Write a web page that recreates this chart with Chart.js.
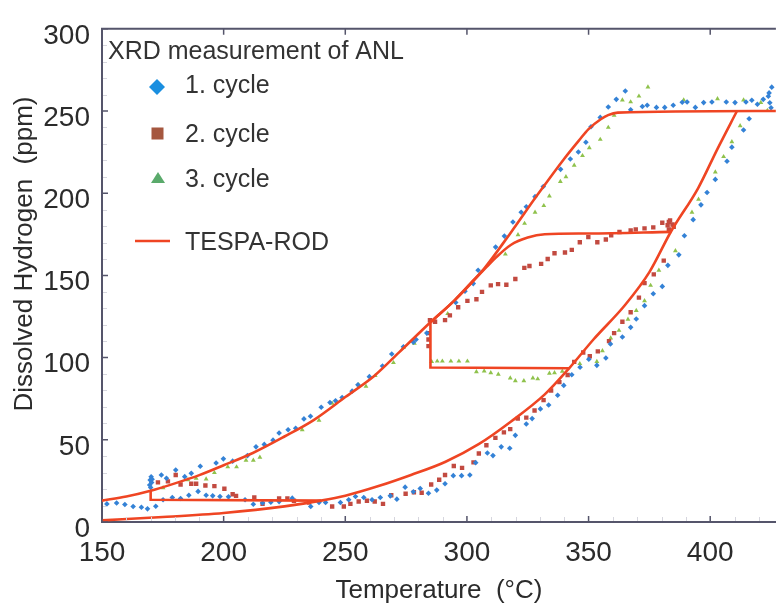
<!DOCTYPE html>
<html>
<head>
<meta charset="utf-8">
<script src="https://cdn.jsdelivr.net/npm/chart.js@4.4.1/dist/chart.umd.min.js"></script>
<style>
  html, body { margin: 0; padding: 0; background: #ffffff; }
  #wrap { width: 779px; height: 610px; position: relative; }
</style>
</head>
<body>
<div id="wrap"><canvas id="c"></canvas></div>
<script>
// ---------------- data ----------------
const xTicks = [150, 200, 250, 300, 350, 400];
const yTicks = [0, 50, 100, 150, 200, 250, 300];

const xTitle = "Temperature  (°C)";
const yTitle = "Dissolved Hydrogen  (ppm)";
const legendTitle = "XRD measurement of ANL";
const seriesNames = ["1. cycle", "2. cycle", "3. cycle", "TESPA-ROD"];

// 1. cycle (blue diamonds)
const cycle1X = [152,156,159.4,162.8,166.2,168.7,172.1,
  175.1,178.9,182.3,185.7,189.5,192.8,195.5,198.5,202,208.8,212.2,216,219.4,222.8,228.2,235.8,239.2,241.9,248,251.4,254.2,257.6,261,264.4,268.5,271.2,274.6,278,280.8,284.2,287.6,291,294.4,297.8,301.2,303.6,308.4,310.7,314.1,317.6,319.9,324.4,326.8,330.2,333.6,337.3,339.8,343.1,346.5,350.1,353.4,357.1,359,363.9,367.3,369.6,373,376.6,380.3,382.6,387.1,389.4,393,396.2,398.7,402.1,406.9,408.9,413.7,416,
  423.9,424.5,425,425.3,424.2,
  421.8,419.4,417.1,414.7,410.2,406.6,400.7,397.3,393.9,390.5,388.5,384.8,381.3,377.9,374.1,372.1,367.3,365.1,361.4,358.1,354.8,351,348.9,345.8,342.5,338.5,331.4,328,324.4,322.3,318.9,315.4,311.8,304.6,302.6,299.2,295.4,283.5,279.1,278,273.9,269.1,265.3,259.9,255.2,252.8,248.7,246,243.7,240.1,235.7,233,229.6,226.5,222.8,220.3,216.7,213.3,209.8,203.7,199.9,196.9,190.4,186.7,184,180.3,176.5,174.4,
  170.2,169.8,170.4,169.6,170,170.6];
const cycle1Y = [11,11.6,10.6,9.4,9,8,9.6,
  13.5,14.9,14.3,16.3,18.6,16.3,15.9,15.5,15.3,13.5,10.8,11.6,12,12.4,14.5,9.4,11.9,11.9,11.9,13.5,15.5,14.9,13.5,14.9,15.9,13.9,21.2,18.4,20.4,17.5,19.4,23.3,28.2,28.2,28.6,36.1,42,40.4,45.7,44.9,52.7,59.6,62.9,68.8,71.2,77.1,83.1,89.6,94.1,99,95.3,99.8,108.3,112.5,118.4,123.5,131.6,138.8,143.3,156.1,162.5,174.1,183.9,192.9,200.4,208.4,219.4,228,238.4,245.3,
  259,255,252,264.5,261,
  257.1,254.1,256.5,255.5,255.1,255.5,255.5,255.1,252.2,255.5,255.3,253.5,252.2,252.2,253.5,252.7,250.8,262.2,257.1,252.4,246.1,240.4,231,225.1,220.8,214.5,204.1,197.9,191.8,188.4,182.5,173.9,167.2,153.1,145,140.4,133.5,114.9,111,109.4,106.6,102.2,94.9,88.4,83.5,79.6,75.7,73.7,72.7,69.8,64.3,62.7,57,56.1,54.1,49.8,47.2,45.7,40.4,37,38.4,35.9,33.9,29.6,27.6,31.6,26.6,28.6,
  27.5,25.5,24,22.5,21,26];

// 2. cycle (red squares)
const cycle2X = [173,177.1,180.3,182.3,186.7,188.7,192.5,196.2,200.3,203.7,205.1,212.6,216,222.8,226.2,228.9,235.1,244.6,249.4,252.1,255.5,258.9,262.1,265.5,268.9,274.8,278.2,281.4,285.3,288.6,291,294.6,298,302.7,304.9,308,311.7,315.2,317.8,320.9,324.4,327.8,331.5,334.6,338,341.4,344.1,347.8,350.5,353.8,358.4,360.5,363.9,367.3,370.7,373,376.8,380.9,
  383,384.5,383.5,385,382.5,
  383,380.3,376.6,373,369.4,367.3,362.7,359.3,357.1,353.6,349.9,346.4,343.1,340.3,336,333.2,330.5,325.7,323.6,319.9,316.2,312.8,309.8,306.2,303.9,300.2,296.4,293,291,286.9,284.8,284.2,284.2,284.2];
const cycle2Y = [24.1,24.7,28.6,22.8,23.3,23.3,22.2,21.8,20.2,16.9,15.9,14.9,11,14.3,14.3,12.9,11.9,9.4,9.4,11,12.5,12.9,12.5,11,16.3,17.2,18.1,17.8,22.8,25.7,28.6,34.1,32.9,36.3,41.7,46.7,51.2,54.5,56.5,62.9,63.5,67.8,74.1,80,85.1,89.4,97.4,103.1,100.8,103.8,110,114.9,121.8,127.6,136.5,145.3,150.6,159,
  178,181,183.5,179.5,180.5,
  182.5,182,179.2,178.6,178,177.3,176.4,174.4,171.8,170.2,173.3,170.2,165.5,163.9,163.5,160,157,155.7,154.6,147.8,144.3,144.7,143.9,140,135.5,134.5,130.6,125.7,122.8,121.8,122.7,114.9,111,107];

// 3. cycle (green triangles)
const cycle3X = [285.5,287.8,289.9,293.4,296.7,300.2,303.9,307.1,309.8,312.9,317.8,319.9,323.4,327.1,329.1,333.9,336,339.2,
  346.4,353.4,355.7,359.1,362.5,366.2,369.6,373,375.5,378.9,385.7,392.5,395.2,402.1,405.5,408.9,412.3,420.8,423.5,
  413.7,403,389.1,374.4,370.7,367.3,363.9,360.5,358.1,354.8,350.3,347.5,344.1,340.7,338.4,333.9,331.6,328,323.7,321,315.8,292.1,278.4,273.9,269.8,262.3,258.5,255.5,244.6,239.2,232.3,214.9,212.2,209.2,205.3,201.7,196.2,192.8,188.7,185.3,175.1];
const cycle3Y = [97.6,97.8,97.8,97.8,97.8,97.8,91.4,91.8,90.7,89.8,87.5,85.9,85.9,87.6,87,90.4,90.7,91.7,
  96.3,97.6,104.1,111.9,116.5,123.3,128.6,134.5,143.9,153.1,164.9,188.4,196.3,212.9,222.2,231.2,241,255.1,250.2,
  256.6,257.4,256.6,264.5,259,255.5,256.6,247.3,240,232.7,227.6,222.8,216.9,210,207.1,198.2,192.4,188.4,181.6,174.7,162.9,126.7,108.6,106.1,96.9,89,82.5,83.5,72.2,61.9,56.1,39.4,37.5,37.5,33.5,33.5,30,26.1,26.6,25.7,20.8];

// TESPA-ROD model curves
const tespaUpperX = [150,160,170,180,190,200,212,225,237,250,262,272,285,295,307,318,329,340,346,350,355,358,362,427];
const tespaUpperY = [13,15.5,19,23.5,28.5,34.5,42,52,62,76,89,103,121.5,135,154,176,199,221,232,239,245,247.5,249,250];
const tespaLowerX = [150,175,200,225,240,250,264,277,291,305,318,332,342,352,365,375,384,395,403,411];
const tespaLowerY = [1,3,5.5,9.5,13,16,22,28.6,36.5,47.5,61,77.6,93.5,111,132,152,177,203,227,250];
const tespaInnerX = [285,295,303,308,312,318,325,332,350,384];
const tespaInnerY = [121.5,135,147.5,155,161,168.5,173,175,175.5,176.5];
const tespaStepMidX = [285,285,342];
const tespaStepMidY = [121.5,94,93.5];
const tespaStepLowX = [170,170,240];
const tespaStepLowY = [19,13.5,13];

// ---------------- styling ----------------
const FONT = '"Liberation Sans", Arial, Helvetica, sans-serif';
const AXIS_COLOR = '#55556b';
const TEXT_COLOR = '#2b2b2b';
const LINE_COLOR = '#ef4523';
const BLUE = '#3482d6', RED = '#c24a40', GREEN = '#8fc24c';
const LEG_BLUE = '#1a8fe0', LEG_RED = '#a5573f', LEG_GREEN = '#5aaa6b';

const pts = (xs, ys) => xs.map((x, i) => ({ x: x, y: ys[i] }));

function lineDs(xs, ys, smooth) {
  return {
    label: seriesNames[3], data: pts(xs, ys), showLine: true,
    borderColor: LINE_COLOR, backgroundColor: LINE_COLOR, borderWidth: 2.6,
    pointRadius: 0, pointHoverRadius: 0,
    cubicInterpolationMode: smooth ? 'monotone' : 'default', tension: 0,
    order: 0
  };
}
function pointDs(name, xs, ys, style, color, r) {
  return {
    label: name, data: pts(xs, ys), showLine: false,
    pointStyle: style, pointRadius: r, pointHoverRadius: r,
    backgroundColor: color, borderColor: color, pointBorderWidth: 0,
    order: 1
  };
}

const decor = {
  id: 'decor',
  afterDatasetsDraw(chart) {
    const { ctx, chartArea: a, scales: { x, y } } = chart;
    ctx.save();
    // top frame line
    ctx.strokeStyle = AXIS_COLOR; ctx.lineWidth = 2;
    ctx.beginPath(); ctx.moveTo(a.left - 1, a.top); ctx.lineTo(a.right, a.top); ctx.stroke();
    // minor ticks (faint)
    ctx.strokeStyle = '#d6d6de'; ctx.lineWidth = 1;
    ctx.beginPath();
    for (let v = 160; v <= 420; v += 10) {
      if (v % 50 === 0) continue;
      const px = Math.round(x.getPixelForValue(v)) + 0.5;
      ctx.moveTo(px, a.bottom - 1); ctx.lineTo(px, a.bottom - 5);
    }
    for (let v = 10; v < 300; v += 10) {
      if (v % 50 === 0) continue;
      const py = Math.round(y.getPixelForValue(v)) + 0.5;
      ctx.moveTo(a.left + 1, py); ctx.lineTo(a.left + 5, py);
    }
    ctx.stroke();
    // major ticks, pointing inward
    ctx.strokeStyle = AXIS_COLOR; ctx.lineWidth = 1.5;
    ctx.beginPath();
    xTicks.forEach(v => {
      const px = x.getPixelForValue(v);
      ctx.moveTo(px, a.bottom); ctx.lineTo(px, a.bottom - 6);
      ctx.moveTo(px, a.top); ctx.lineTo(px, a.top + 6);
    });
    yTicks.forEach(v => {
      const py = y.getPixelForValue(v);
      ctx.moveTo(a.left, py); ctx.lineTo(a.left + 6, py);
    });
    ctx.stroke();
    ctx.restore();
  },
  afterDraw(chart) {
    const ctx = chart.ctx;
    ctx.save();
    // y axis title
    ctx.fillStyle = TEXT_COLOR;
    ctx.font = '26px ' + FONT;
    ctx.textAlign = 'center';
    ctx.textBaseline = 'middle';
    ctx.translate(25, 254);
    ctx.rotate(-Math.PI / 2);
    ctx.fillText(yTitle, 0, 0);
    ctx.restore();

    ctx.save();
    ctx.fillStyle = '#333333';
    ctx.textAlign = 'left';
    ctx.textBaseline = 'alphabetic';
    ctx.font = '25px ' + FONT;
    ctx.fillText(legendTitle, 108, 59);
    // diamond
    ctx.fillStyle = LEG_BLUE;
    ctx.beginPath();
    ctx.moveTo(157 - 8, 87); ctx.lineTo(157, 87 - 8); ctx.lineTo(157 + 8, 87); ctx.lineTo(157, 87 + 8);
    ctx.closePath(); ctx.fill();
    // square
    ctx.fillStyle = LEG_RED;
    ctx.fillRect(151.5, 127.5, 12, 12);
    // triangle
    ctx.fillStyle = LEG_GREEN;
    ctx.beginPath();
    ctx.moveTo(158, 172); ctx.lineTo(165, 183); ctx.lineTo(151, 183);
    ctx.closePath(); ctx.fill();
    // line
    ctx.strokeStyle = LINE_COLOR; ctx.lineWidth = 2.6;
    ctx.beginPath(); ctx.moveTo(135, 241); ctx.lineTo(170, 241); ctx.stroke();
    // labels
    ctx.fillStyle = '#333333';
    ctx.fillText(seriesNames[0], 185, 93);
    ctx.fillText(seriesNames[1], 185, 142);
    ctx.fillText(seriesNames[2], 185, 187);
    ctx.fillText(seriesNames[3], 185, 250);
    ctx.restore();
  }
};

new Chart(document.getElementById('c'), {
  type: 'scatter',
  data: {
    datasets: [
      lineDs(tespaUpperX, tespaUpperY, true),
      lineDs(tespaLowerX, tespaLowerY, true),
      lineDs(tespaInnerX, tespaInnerY, true),
      lineDs(tespaStepMidX, tespaStepMidY, false),
      lineDs(tespaStepLowX, tespaStepLowY, false),
      pointDs(seriesNames[0], cycle1X, cycle1Y, 'rectRot', BLUE, 2.8),
      pointDs(seriesNames[1], cycle2X, cycle2Y, 'rect', RED, 3.1),
      pointDs(seriesNames[2], cycle3X, cycle3Y, 'triangle', GREEN, 2.8)
    ]
  },
  options: {
    responsive: true,
    maintainAspectRatio: false,
    animation: false,
    layout: { padding: { top: 11, right: 1, left: 0, bottom: 0 } },
    plugins: { legend: { display: false }, tooltip: { enabled: false } },
    scales: {
      x: {
        type: 'linear', min: 150, max: 427,
        afterBuildTicks: s => { s.ticks = xTicks.map(v => ({ value: v })); },
        afterFit: s => { s.height = 88; },
        grid: { display: true, drawOnChartArea: false, drawTicks: false },
        border: { display: true, color: AXIS_COLOR, width: 2 },
        ticks: { color: TEXT_COLOR, font: { family: FONT, size: 28 }, padding: 14, maxRotation: 0 },
        title: { display: true, text: xTitle, color: TEXT_COLOR,
                 font: { family: FONT, size: 26 }, padding: { top: 0, bottom: 4 } }
      },
      y: {
        type: 'linear', min: 0, max: 300,
        afterBuildTicks: s => { s.ticks = yTicks.map(v => ({ value: v })); },
        afterFit: s => { s.width = 102; },
        grid: { display: true, drawOnChartArea: false, drawTicks: false },
        border: { display: true, color: AXIS_COLOR, width: 2 },
        ticks: { color: TEXT_COLOR, font: { family: FONT, size: 28 }, padding: 12, labelOffset: 7 },
        title: { display: false, text: yTitle }
      }
    }
  },
  plugins: [decor]
});
</script>
</body>
</html>
